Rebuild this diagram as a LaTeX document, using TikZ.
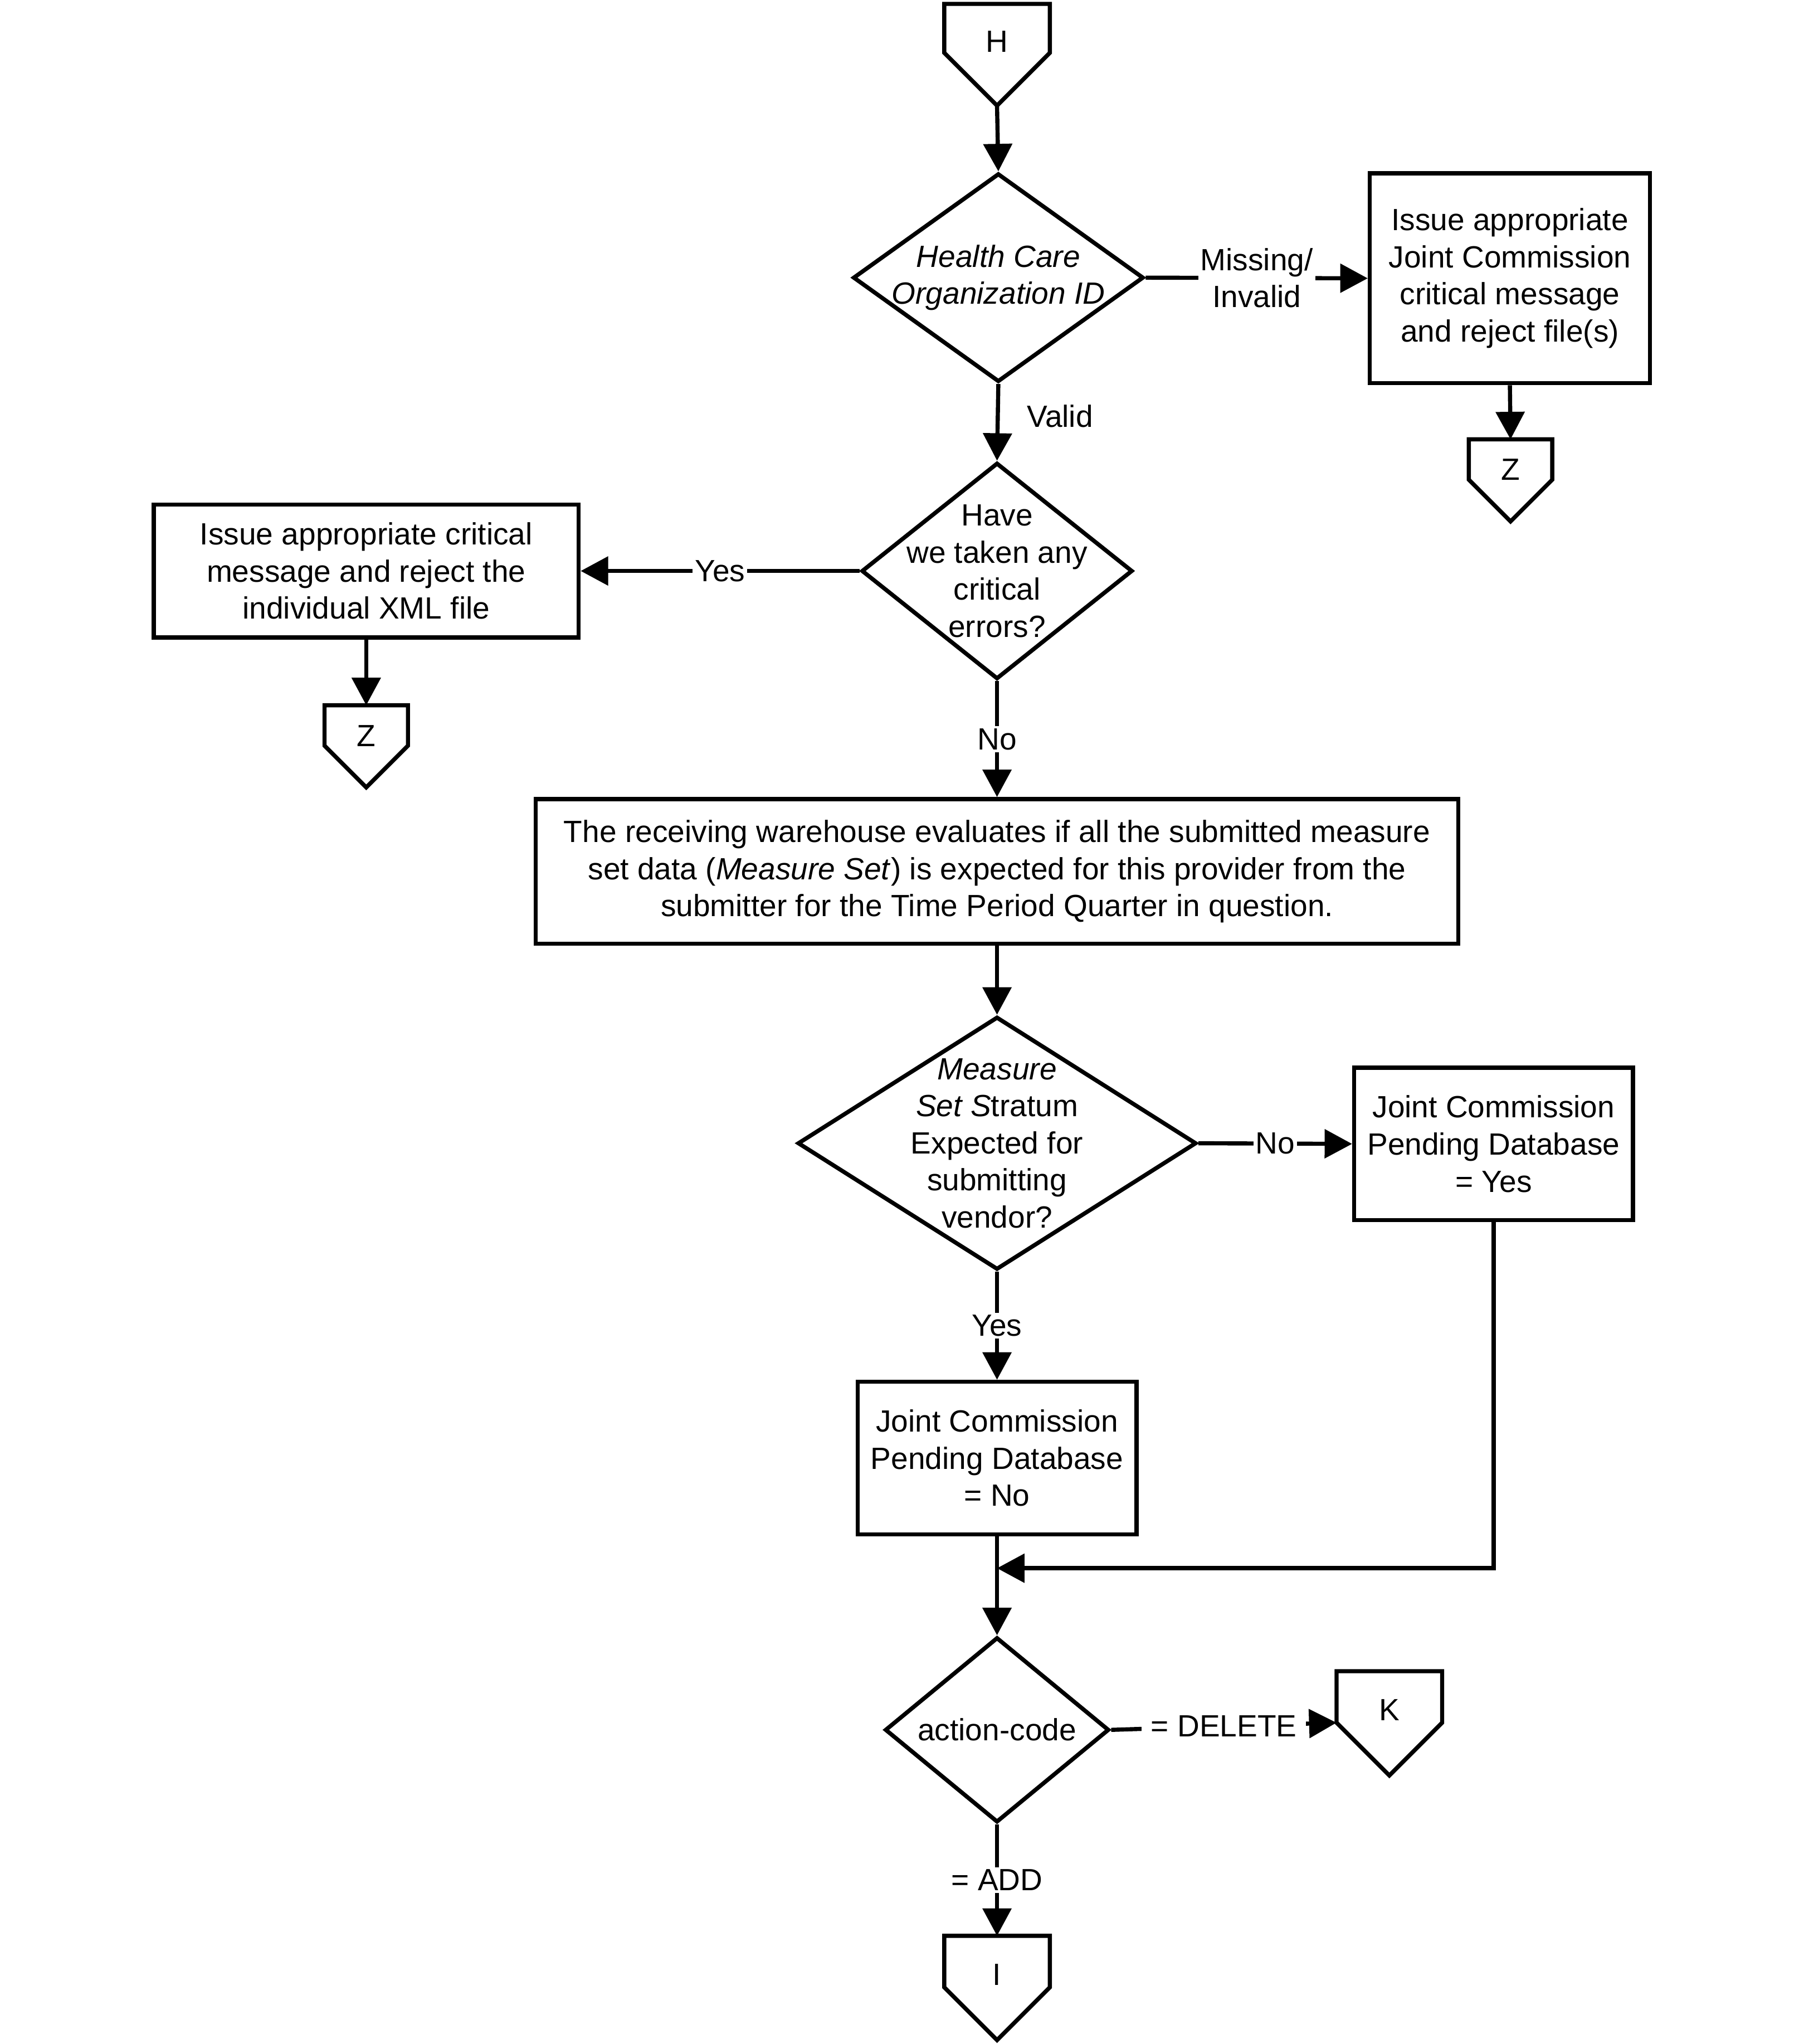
\documentclass[tikz,border=0pt]{standalone}
\usepackage{fontspec}
\setmainfont{Liberation Sans}
\usetikzlibrary{shapes.geometric,arrows.meta}

\begin{document}
\begin{tikzpicture}
[x=0.02cm,y=-0.02cm,
  font=\fontsize{13.4pt}{16.2pt}\selectfont,
  lineDecorate/.style={-{Triangle[length=12pt,width=12.4pt]},line width=1.8pt},
  boxDecorate/.style={shape=rectangle,draw,line width=1.8pt,align=center,inner sep=0pt},
  diamondDecorate/.style={shape=diamond,draw,line width=1.8pt,inner sep=0pt},
  labelDecorate/.style={fill=white,inner sep=1pt,align=center}]
%% page
\path[fill=white] (0,0) rectangle (1384,1568);
%% off-page connectors
\foreach \nodename/\x/\y/\bw/\bh/\txt in {
  h/765/3/81/78/H,
  zR/1159/337/64/63/Z,
  zL/281/541/64/63/Z,
  k/1066/1282/81/80/K,
  i/765/1485/81/80/I}
{
  \draw[line width=1.8pt] (\x-\bw/2,\y) -- ++(\bw,0) -- ++(0,\bh-\bw/2)
    -- ++(-\bw/2,\bw/2) -- ++(-\bw/2,-\bw/2) -- cycle;
  \node (\nodename) at (\x,\y+0.37*\bh) {\txt};
  \coordinate (\nodename-top) at (\x,\y);
  \coordinate (\nodename-tip) at (\x,\y+\bh);
  \coordinate (\nodename-w) at (\x-\bw/2,\y+\bh-\bw/2);
}
%% decisions
\node[diamondDecorate,minimum width=4.46cm,minimum height=3.20cm] (hco) at (766,213) {};
\node[align=center] (hcoText) at (hco) {\textit{Health Care}\\\textit{Organization ID}};
\node[diamondDecorate,minimum width=4.16cm,minimum height=3.32cm] (errs) at (765,438) {};
\node[align=center] (errsText) at (errs) {Have\\we taken any\\critical\\errors?};
\node[diamondDecorate,minimum width=6.12cm,minimum height=3.88cm] (stratum) at (765,877) {};
\node[align=center] (stratumText) at (stratum)
  {\textit{Measure}\\\textit{Set S}tratum\\Expected for\\submitting\\vendor?};
\node[diamondDecorate,minimum width=3.44cm,minimum height=2.84cm] (act) at (765,1327) {};
\node (actText) at (act) {action-code};
%% process boxes
\node[boxDecorate,minimum width=4.30cm,minimum height=3.22cm] (crit) at (1158.5,213.5)
  {Issue appropriate\\Joint Commission\\critical message\\and reject file(s)};
\node[boxDecorate,minimum width=6.52cm,minimum height=2.04cm] (indiv) at (281,438)
  {Issue appropriate critical\\message and reject the\\individual XML file};
\node[boxDecorate,minimum width=14.16cm,minimum height=2.22cm] (warehouse) at (765,668.5)
  {The receiving warehouse evaluates if all the submitted measure\\
   set data (\textit{Measure Set}) is expected for this provider from the\\
   submitter for the Time Period Quarter in question.};
\node[boxDecorate,minimum width=4.28cm,minimum height=2.34cm] (pendY) at (1146,877.5)
  {Joint Commission\\Pending Database\\= Yes};
\node[boxDecorate,minimum width=4.28cm,minimum height=2.34cm] (pendN) at (765,1118.5)
  {Joint Commission\\Pending Database\\= No};
\coordinate (merge) at (765,1203);
%% edges
\draw[lineDecorate] (h-tip) -- (hco.north);
\draw[lineDecorate] (hco.east) -- node[labelDecorate] {Missing/\\Invalid} (crit.west);
\draw[lineDecorate] (crit.south) -- (zR-top);
\draw[lineDecorate] (hco.south) -- node[pos=0.42,right=0.3cm] {Valid} (errs.north);
\draw[lineDecorate] (errs.west) -- node[labelDecorate] {Yes} (indiv.east);
\draw[lineDecorate] (indiv.south) -- (zL-top);
\draw[lineDecorate] (errs.south) -- node[labelDecorate] {No} (warehouse.north);
\draw[lineDecorate] (warehouse.south) -- (stratum.north);
\draw[lineDecorate] (stratum.east) -- node[labelDecorate] {No} (pendY.west);
\draw[lineDecorate] (stratum.south) -- node[labelDecorate] {Yes} (pendN.north);
\draw[lineDecorate] (pendY.south) |- (merge);
\draw[lineDecorate] (pendN.south) -- (act.north);
\draw[lineDecorate] (act.east) -- node[labelDecorate,inner xsep=4pt] {= DELETE} (k-w);
\draw[lineDecorate] (act.south) -- node[labelDecorate] {= ADD} (i-top);
\end{tikzpicture}
\end{document}
